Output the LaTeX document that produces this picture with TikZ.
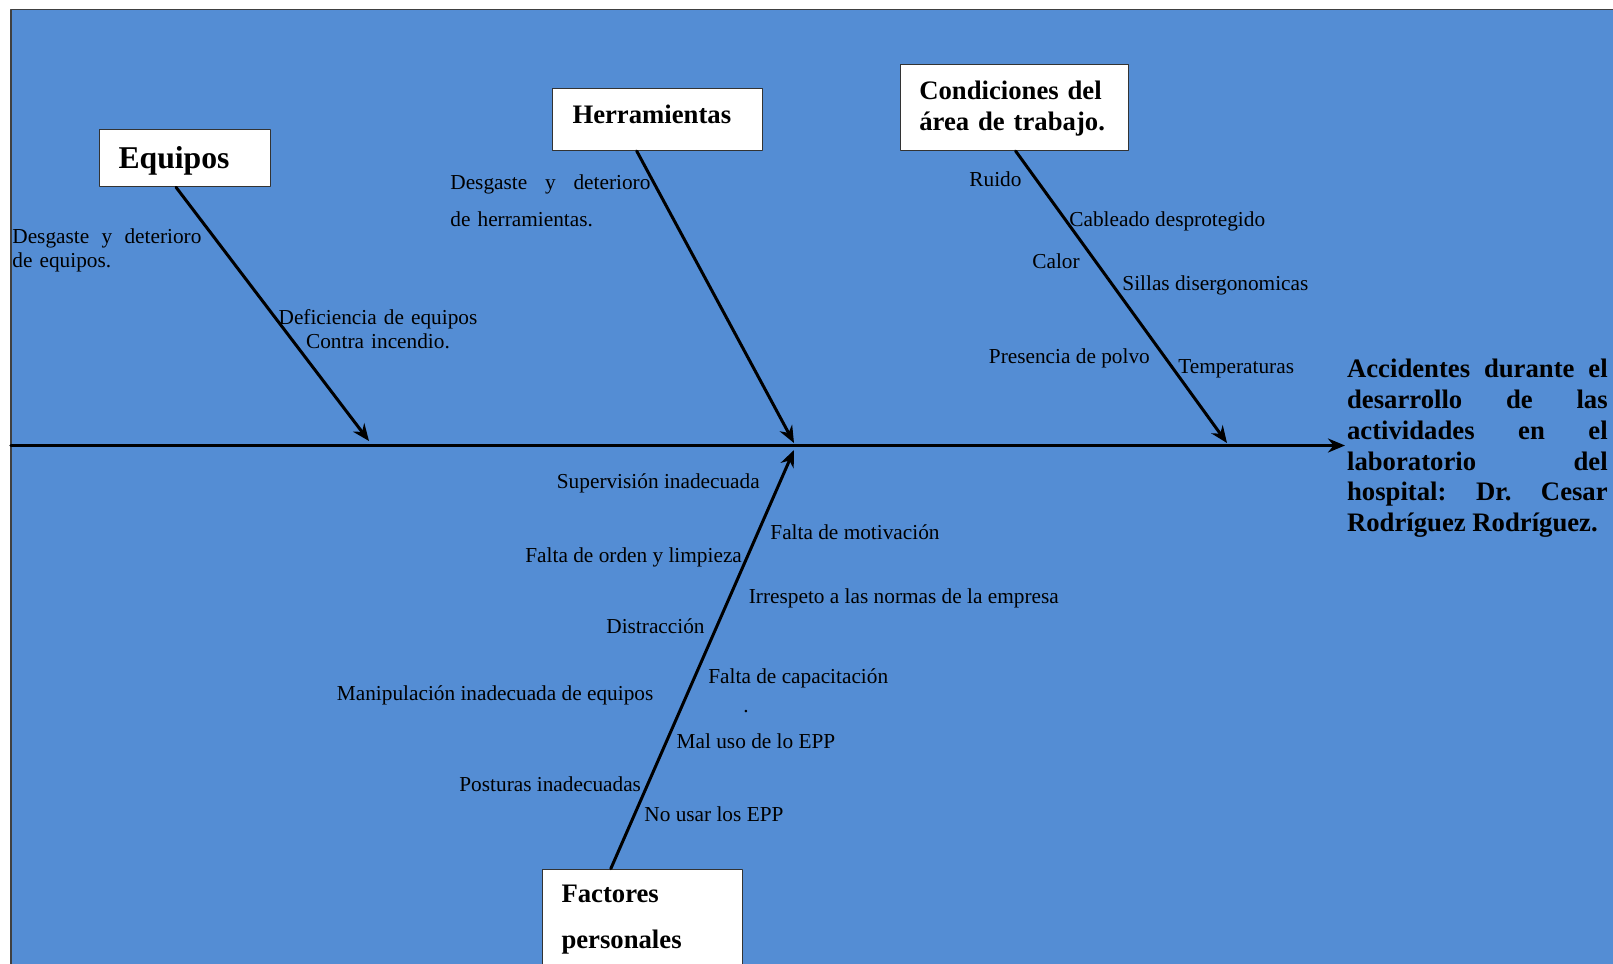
\documentclass[tikz,border=0pt]{standalone}
\usepackage{fontspec}
\setmainfont{Liberation Serif}
\usetikzlibrary{arrows.meta}
\definecolor{fondo}{RGB}{84,141,212}
\frenchspacing

\begin{document}
\begin{tikzpicture}[x=0.5pt, y=-0.5pt, line cap=round, line join=round,
  >={Stealth[length=8.5pt, width=7pt]},
  causa/.style={draw=black!80, fill=white, line width=0.5pt, anchor=north west, align=left, inner ysep=0pt, font=\bfseries\fontsize{13.35}{15.35}\selectfont},
  item/.style={anchor=base west, inner sep=0pt, font=\fontsize{10.65}{12.2}\selectfont},
  espina/.style={->, line width=1.5pt}]
\useasboundingbox (0,0) rectangle (1613,964);
\fill[fondo] (11,9.5) rectangle (1613,964);
\draw[black!75, line width=0.6pt] (11,964) -- (11,9.5) -- (1613,9.5);

\node[causa, inner xsep=9.6pt, text width=66.4pt, text height=19.7pt, text depth=9.1pt, font=\bfseries\fontsize{15.85}{19}\selectfont] (equipos) at (98.8,128.6) {Equipos};
\node[causa, inner xsep=10pt, text width=85pt, text height=17.35pt, text depth=13.65pt] (herram) at (552,88) {Herramientas};
\node[causa, inner xsep=9.6pt, text width=94.8pt, text height=17.5pt, text depth=25.35pt] (condic) at (899.6,64.3) {Condiciones del\\área de trabajo.};
\node[causa, inner xsep=9.5pt, text width=81pt, text height=16.5pt, text depth=40pt, font=\bfseries\fontsize{13.35}{23}\selectfont] (factor) at (542,868.7) {Factores\\personales};

\node[anchor=base west, inner sep=0pt, text width=130.3pt, align=justify, font=\bfseries\fontsize{13.35}{15.45}\selectfont] (efecto) at (1346.7,377.3)
  {Accidentes durante el\linebreak desarrollo de las\linebreak actividades en el\linebreak laboratorio del\linebreak hospital: Dr. Cesar\linebreak Rodríguez Rodríguez.};

\coordinate (inicio) at (11,445.5);
\coordinate (fin) at (1345,445.5);
\coordinate (pEq) at (369,441);
\coordinate (pHe) at (794,443);
\coordinate (pCo) at (1227,443);
\coordinate (pFa) at (794,450);
\draw[espina, line width=1.6pt] (inicio) -- (fin);
\draw[espina] ([xshift=38.6pt]equipos.south west) -- (pEq);
\draw[espina] ([xshift=42.35pt]herram.south west) -- (pHe);
\draw[espina] ([xshift=58pt]condic.south west) -- (pCo);
\draw[espina] ([xshift=34.4pt]factor.north west) -- (pFa);

\node[item, text width=94.5pt, align=left] (deseq) at (12,243.3) {\makebox[94.5pt][l]{Desgaste\hfill y\hfill deterioro}\\de equipos.};
\node[item, anchor=base, text width=100pt, align=center] (defic) at (378,324) {Deficiencia de equipos\\Contra incendio.};
\node[item, text width=100pt, align=left, font=\fontsize{10.65}{18.35}\selectfont] (desher) at (450,189.3) {\makebox[100pt][l]{Desgaste\hfill y\hfill deterioro}\\de herramientas.};

\foreach \x/\y/\t [count=\i] in {
  969/186.7/Ruido,
  1069/226.7/Cableado desprotegido,
  1032/268.3/Calor,
  1122/290/Sillas disergonomicas,
  988.5/363.3/Presencia de polvo,
  1178/373.3/Temperaturas,
  556.5/488.6/Supervisión inadecuada,
  770/539.7/Falta de motivación,
  525/562/Falta de orden y limpieza,
  748.5/603.7/Irrespeto a las normas de la empresa,
  606/633.7/Distracción,
  708/683/Falta de capacitación,
  743/712/.,
  336.5/700.8/Manipulación inadecuada de equipos,
  676.3/748.5/Mal uso de lo EPP,
  459/791.7/Posturas inadecuadas,
  644/821/No usar los EPP}
  \node[item] (causa\i) at (\x,\y) {\t};
\end{tikzpicture}
\end{document}
